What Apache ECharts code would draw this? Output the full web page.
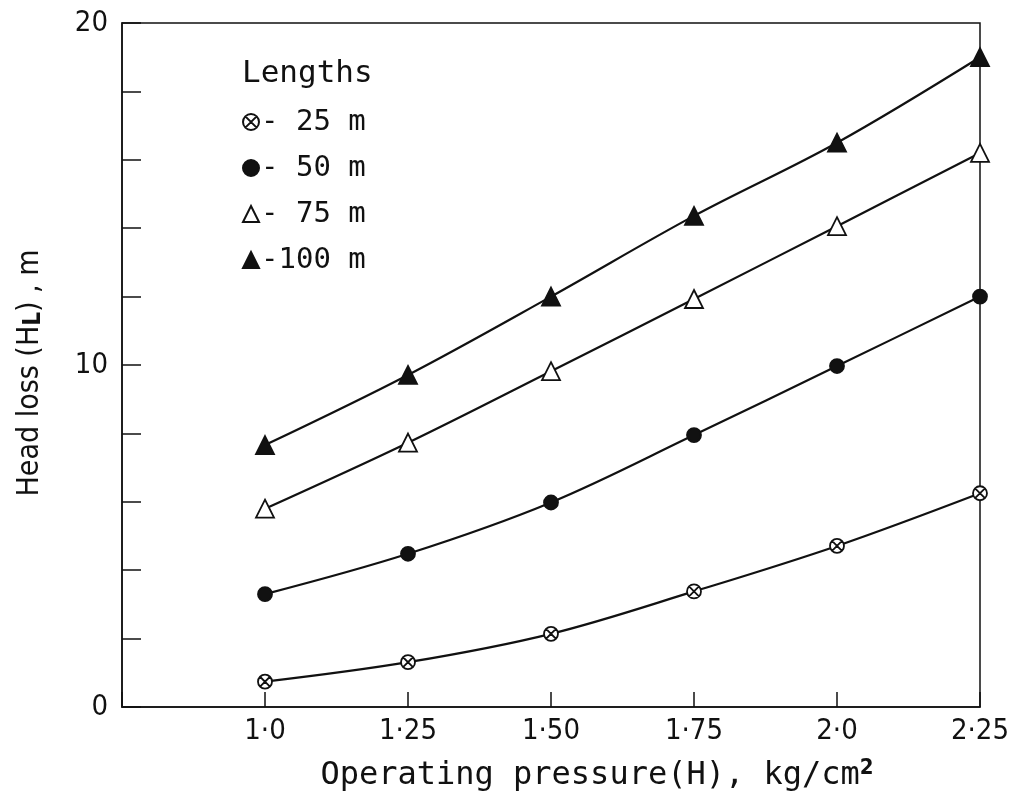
<!DOCTYPE html>
<html>
<head>
<meta charset="utf-8">
<title>Head loss vs operating pressure</title>
<script src="https://cdn.jsdelivr.net/npm/echarts@6/dist/echarts.min.js"></script>
<style>
  html, body { margin: 0; padding: 0; background: #fff; }
  #chart { width: 1017px; height: 800px; }
</style>
</head>
<body>
<div id="chart"></div>
<script>
// Operating pressure (kg/cm2) at which head loss was measured
const pressure = [1.0, 1.25, 1.5, 1.75, 2.0, 2.25];
// Head loss (m) for each lateral length
const loss25 = [0.74, 1.31, 2.14, 3.38, 4.71, 6.25];
const loss50 = [3.3, 4.48, 5.98, 7.95, 9.97, 12.0];
const loss75 = [5.8, 7.73, 9.82, 11.93, 14.06, 16.2];
const loss100 = [7.66, 9.71, 12.0, 14.36, 16.5, 19.0];
const lengthNames = ['25 m', '50 m', '75 m', '100 m'];
// Tick labels along the pressure axis
const xTickLabels = ['1·0', '1·25', '1·50', '1·75', '2·0', '2·25'];
const yTickLabels = ['0', '10', '20'];

const NARROW = "'DejaVu Sans Condensed', 'DejaVu Sans', sans-serif";
const MONO = "'DejaVu Sans Mono', 'Liberation Mono', monospace";
const INK = '#111';

// circle with a cross inside
const crossCircle = 'path://M0,10 A10,10 0 1,1 20,10 A10,10 0 1,1 0,10 Z M2.93,2.93 L17.07,17.07 M17.07,2.93 L2.93,17.07';

const pairs = arr => pressure.map((p, i) => [p, arr[i]]);

const seriesDefs = [
  { name: lengthNames[0], data: loss25, symbol: crossCircle, size: 14, fill: '#fff' },
  { name: lengthNames[1], data: loss50, symbol: 'circle', size: 14, fill: INK },
  { name: lengthNames[2], data: loss75, symbol: 'triangle', size: 18, fill: '#fff' },
  { name: lengthNames[3], data: loss100, symbol: 'triangle', size: 18, fill: INK }
];

// legend entries read "- 25 m", "-100 m" so the unit lines up on the right
const legendText = name => {
  const num = name.replace(' m', '');
  return (num.length < 3 ? '- ' : '-') + num + ' m';
};

const chart = echarts.init(document.getElementById('chart'));
chart.setOption({
  animation: false,
  backgroundColor: '#fff',
  textStyle: { fontFamily: NARROW, color: INK },
  title: {
    text: 'Lengths',
    left: 242,
    top: 58,
    padding: 0,
    textStyle: { fontFamily: MONO, fontSize: 31, fontWeight: 'normal', color: INK }
  },
  legend: {
    orient: 'vertical',
    left: 242,
    top: 107,
    padding: 0,
    itemGap: 16,
    itemWidth: 16,
    itemHeight: 16,
    data: seriesDefs.map(s => ({ name: s.name, icon: s.symbol })),
    formatter: legendText,
    textStyle: { fontFamily: MONO, fontSize: 29, lineHeight: 30, color: INK, padding: [0, 0, 0, -3] }
  },
  grid: {
    left: 122,
    right: 37,
    top: 23,
    bottom: 93,
    show: true,
    borderColor: INK,
    borderWidth: 1.5,
    backgroundColor: 'transparent'
  },
  xAxis: {
    type: 'value',
    min: 0.75,
    max: 2.25,
    interval: 0.25,
    name: 'Operating pressure(H), kg/cm{sup|2}',
    nameLocation: 'middle',
    nameGap: 50,
    nameTextStyle: {
      fontFamily: MONO, fontSize: 32, color: INK,
      padding: [0, 0, 0, 92],
      rich: { sup: { fontFamily: NARROW, fontSize: 22, fontWeight: 'bold', verticalAlign: 'top', padding: [0, 0, 16, 0], color: INK } }
    },
    axisLine: { show: true, lineStyle: { color: INK, width: 1.5 } },
    axisTick: { show: true, inside: true, length: 15, lineStyle: { color: INK, width: 1.5 } },
    splitLine: { show: false },
    axisLabel: {
      margin: 10,
      fontFamily: NARROW,
      fontSize: 29,
      color: INK,
      formatter: v => {
        const i = pressure.findIndex(p => Math.abs(p - v) < 1e-6);
        return i >= 0 ? xTickLabels[i] : '';
      }
    }
  },
  yAxis: {
    type: 'value',
    min: 0,
    max: 20,
    interval: 2,
    name: 'Head loss (H{sub|L}) , m',
    nameLocation: 'middle',
    nameGap: 77,
    nameRotate: 90,
    nameTextStyle: {
      fontFamily: NARROW, fontSize: 30, color: INK,
      padding: [0, 16, 0, 0],
      rich: { sub: { fontFamily: NARROW, fontSize: 24, fontWeight: 'bold', padding: [0, 0, -8, 0], color: INK } }
    },
    axisLine: { show: true, lineStyle: { color: INK, width: 1.5 } },
    axisTick: { show: true, inside: true, length: 19, lineStyle: { color: INK, width: 1.5 } },
    splitLine: { show: false },
    axisLabel: {
      margin: 14,
      fontFamily: NARROW,
      fontSize: 29,
      color: INK,
      formatter: v => (yTickLabels.indexOf(String(v)) >= 0 ? String(v) : '')
    }
  },
  series: seriesDefs.map(s => ({
    name: s.name,
    type: 'line',
    smooth: 0.35,
    data: pairs(s.data),
    symbol: s.symbol,
    symbolSize: s.size,
    showAllSymbol: true,
    lineStyle: { color: INK, width: 2.2 },
    itemStyle: { color: s.fill, borderColor: INK, borderWidth: 1.8 },
    z: 3
  }))
});
</script>
</body>
</html>
